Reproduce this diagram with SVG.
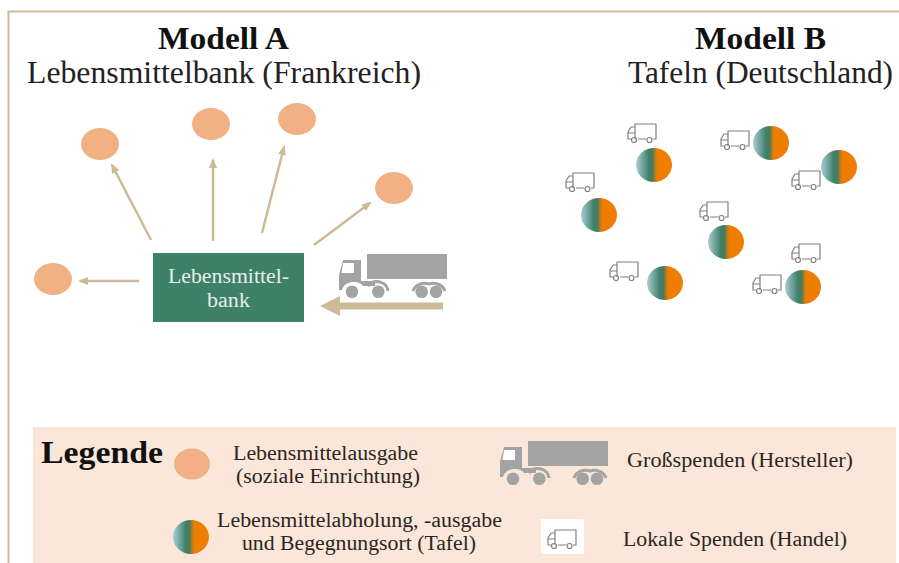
<svg xmlns="http://www.w3.org/2000/svg" width="899" height="563" viewBox="0 0 899 563">
<style>
text{font-family:"Liberation Serif","DejaVu Serif",serif;fill:#2b2622;text-anchor:start}
.h{font-size:31px;font-weight:bold;fill:#111}
.s{font-size:32px;fill:#222}
.l{font-size:20px}
.o{fill:#f2b184}
.g{fill:url(#grad)}
.a{stroke:#cdbb98;stroke-width:2.500;fill:none;marker-end:url(#ah)}
.v{fill:none;stroke:#808080;stroke-width:1.200;stroke-linejoin:round}
.t{fill:#a3a3a3}
.w{fill:none;stroke:#a3a3a3;stroke-width:3}
</style>
<defs>
<linearGradient id="grad" x1="0" x2="1" y1="0" y2="0">
<stop offset="0" stop-color="#a9cdd6"/><stop offset="0.36" stop-color="#3f8068"/><stop offset="0.46" stop-color="#4a7c5c"/><stop offset="0.58" stop-color="#ef7d00"/><stop offset="1" stop-color="#ef7d00"/>
</linearGradient>
<marker id="ah" markerWidth="10" markerHeight="8" refX="8" refY="4" orient="auto" markerUnits="userSpaceOnUse"><path d="M0 0L10 4L0 8Z" fill="#cdbb98"/></marker>
<symbol id="van" width="30" height="21" viewBox="0 0 30 21" overflow="visible">
<path class="v" d="M8 4V1H29V16H26M19 16H11M4 16H1V9L4 4H8V16M1 10H8"/>
<circle class="v" cx="7" cy="17" r="2.500"/><circle class="v" cx="22.500" cy="17" r="2.500"/>
</symbol>
<symbol id="truck" width="112" height="50" viewBox="0 0 112 50" overflow="visible">
<rect class="t" x="29" y="1" width="80" height="25"/>
<path class="t" d="M1 37V22L5 7H23V28H37V33H25C22 27 6 27 4 37Z"/>
<path d="M5 10H16V20H3.500Z" fill="#fff"/>
<path class="w" d="M30 33A11 10 0 0 1 50 38"/>
<path class="w" d="M75 38A12 11 0 0 1 91 31A12 11 0 0 1 107 38"/>
<circle class="t" cx="14" cy="38.700" r="6.300"/><circle class="t" cx="40.300" cy="38.700" r="6.300"/><circle class="t" cx="83.700" cy="38.700" r="6.300"/><circle class="t" cx="98" cy="38.700" r="6.300"/>
</symbol>
</defs>
<rect width="899" height="563" fill="#fff"/>
<path d="M8.500 563V11.500H899" fill="none" stroke="#cdbb98" stroke-width="2"/>
<text class="h" x="158" y="49" textLength="131" lengthAdjust="spacingAndGlyphs">Modell A</text>
<text class="s" x="27" y="83" textLength="394" lengthAdjust="spacingAndGlyphs">Lebensmittelbank (Frankreich)</text>
<text class="h" x="695" y="49" textLength="131" lengthAdjust="spacingAndGlyphs">Modell B</text>
<text class="s" x="628" y="83" textLength="265" lengthAdjust="spacingAndGlyphs">Tafeln (Deutschland)</text>
<g id="connectors">
<path class="a" d="M151 240L112 165"/>
<path class="a" d="M213 241V160"/>
<path class="a" d="M262 233L284 147"/>
<path class="a" d="M314 245L370 203"/>
<path class="a" d="M139 281H80"/>
<path d="M443 306H333" stroke="#cdbb98" stroke-width="7" fill="none"/>
<path d="M320 306L340 296V316Z" fill="#cdbb98"/>
</g>
<g id="bank"><rect x="153" y="253" width="151" height="69" fill="#3f8068"/>
<text class="l" x="168" y="283" textLength="121" lengthAdjust="spacingAndGlyphs" style="fill:#e6efe9">Lebensmittel-</text>
<text class="l" x="207" y="307" textLength="43" lengthAdjust="spacingAndGlyphs" style="fill:#e6efe9">bank</text></g>
<g id="a-nodes">
<ellipse id="a1" class="o" cx="100" cy="144" rx="19" ry="16"/>
<ellipse id="a2" class="o" cx="211" cy="124" rx="19" ry="16"/>
<ellipse id="a3" class="o" cx="297" cy="119" rx="19" ry="16"/>
<ellipse id="a4" class="o" cx="394" cy="188" rx="19" ry="16"/>
<ellipse id="a5" class="o" cx="53" cy="279" rx="19" ry="16"/>
</g>
<use id="truck-a" href="#truck" x="338" y="253"/>
<g id="b-nodes">
<ellipse id="b1" class="g" cx="654" cy="165" rx="18" ry="17"/>
<ellipse id="b2" class="g" cx="771" cy="143" rx="18" ry="17"/>
<ellipse id="b3" class="g" cx="839" cy="167" rx="18" ry="17"/>
<ellipse id="b4" class="g" cx="599" cy="215" rx="18" ry="17"/>
<ellipse id="b5" class="g" cx="726" cy="242" rx="18" ry="17"/>
<ellipse id="b6" class="g" cx="665" cy="283" rx="18" ry="17"/>
<ellipse id="b7" class="g" cx="803" cy="287" rx="18" ry="17"/>
</g>
<g id="vans">
<use href="#van" x="627" y="123"/><use href="#van" x="720" y="130"/><use href="#van" x="791" y="170"/><use href="#van" x="565" y="172"/>
<use href="#van" x="699" y="201"/><use href="#van" x="791" y="243"/><use href="#van" x="609" y="261"/><use href="#van" x="752" y="274"/>
</g>
<g id="legend">
<rect x="33" y="427" width="863" height="136" fill="#fbe6da"/>
<text x="41" y="463" textLength="122" lengthAdjust="spacingAndGlyphs" style="font-size:31px;font-weight:bold;fill:#111">Legende</text>
<ellipse class="o" cx="192" cy="464" rx="18" ry="15.500"/>
<text class="l" x="233" y="460" textLength="185" lengthAdjust="spacingAndGlyphs">Lebensmittelausgabe</text>
<text class="l" x="236" y="483" textLength="184" lengthAdjust="spacingAndGlyphs">(soziale Einrichtung)</text>
<use href="#truck" x="499" y="440"/>
<text class="l" x="627" y="467" textLength="226" lengthAdjust="spacingAndGlyphs">Großspenden (Hersteller)</text>
<ellipse class="g" cx="191" cy="537" rx="18" ry="17"/>
<text class="l" x="217" y="527" textLength="285" lengthAdjust="spacingAndGlyphs">Lebensmittelabholung, -ausgabe</text>
<text class="l" x="242" y="550" textLength="234" lengthAdjust="spacingAndGlyphs">und Begegnungsort (Tafel)</text>
<rect x="541" y="519" width="43" height="35" fill="#fff"/>
<use href="#van" x="547" y="529"/>
<text class="l" x="623" y="546" textLength="224" lengthAdjust="spacingAndGlyphs">Lokale Spenden (Handel)</text>
</g>
</svg>
